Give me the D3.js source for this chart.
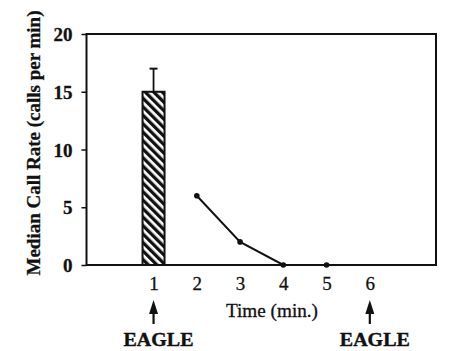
<!DOCTYPE html>
<html><head><meta charset="utf-8">
<script src="https://cdn.jsdelivr.net/npm/d3@7"></script>
<style>
html,body{margin:0;padding:0;background:#fff;}
svg{display:block;}
</style>
</head><body>
<svg id="chart" width="449" height="351"></svg>
<script>
// Data
const barTime = [1];
const barValue = [15];
const barError = [17];
const lineTime = [2, 3, 4, 5];
const lineValue = [6, 2, 0, 0];
const xTicks = [1, 2, 3, 4, 5, 6];
const yTicks = [0, 5, 10, 15, 20];
const eagleTimes = [1, 6];
const eagleLabels = ["EAGLE", "EAGLE"];

const svg = d3.select("#chart");
const pLeft = 86.5, pRight = 436, pTop = 34, pBottom = 265;
const x = d3.scaleLinear().domain([-0.55, 7.53]).range([pLeft, pRight]);
const y = d3.scaleLinear().domain([0, 20]).range([pBottom, pTop]);

// hatch pattern
const defs = svg.append("defs");
const pat = defs.append("pattern").attr("id", "hatch")
  .attr("patternUnits", "userSpaceOnUse").attr("width", 6).attr("height", 6)
  .attr("patternTransform", "rotate(-45)");
pat.append("rect").attr("width", 6).attr("height", 6).attr("fill", "#fff");
pat.append("rect").attr("x", 0).attr("width", 3.3).attr("height", 6).attr("fill", "#111");

const serif = "'Liberation Serif','Times New Roman',serif";

// frame
svg.append("rect").attr("x", pLeft).attr("y", pTop)
  .attr("width", pRight - pLeft).attr("height", pBottom - pTop)
  .attr("fill", "none").attr("stroke", "#111").attr("stroke-width", 2);

// y axis
const yAxis = svg.append("g").attr("transform", `translate(${pLeft},0)`)
  .call(d3.axisLeft(y).tickValues(yTicks).tickSize(5).tickPadding(9).tickFormat(d3.format("d")));
yAxis.select(".domain").remove();
yAxis.selectAll("line").attr("stroke", "#111").attr("stroke-width", 1.5);
yAxis.selectAll("text").attr("font-family", serif).attr("font-weight", "bold")
  .attr("font-size", 19).attr("fill", "#111").attr("stroke", "#111").attr("stroke-width", 0.3)
  .attr("dy", "0.35em");

// x axis labels
const xAxis = svg.append("g").attr("transform", `translate(0,${pBottom})`)
  .call(d3.axisBottom(x).tickValues(xTicks).tickSize(0).tickPadding(12).tickFormat(d3.format("d")));
xAxis.select(".domain").remove();
xAxis.selectAll("text").attr("font-family", serif).attr("font-size", 19).attr("fill", "#111")
  .attr("stroke", "#111").attr("stroke-width", 0.3);

// bar
const bw = 22;
svg.selectAll(".bar").data(barTime).enter().append("rect")
  .attr("x", (d) => x(d) - bw / 2).attr("y", (d, i) => y(barValue[i]))
  .attr("width", bw).attr("height", (d, i) => y(0) - y(barValue[i]))
  .attr("fill", "url(#hatch)").attr("stroke", "#111").attr("stroke-width", 2);

// error bar
barTime.forEach((t, i) => {
  svg.append("line").attr("x1", x(t)).attr("x2", x(t))
    .attr("y1", y(barValue[i])).attr("y2", y(barError[i]))
    .attr("stroke", "#111").attr("stroke-width", 1.8);
  svg.append("line").attr("x1", x(t) - 4).attr("x2", x(t) + 4)
    .attr("y1", y(barError[i])).attr("y2", y(barError[i]))
    .attr("stroke", "#111").attr("stroke-width", 2);
});

// line
const pts = lineTime.map((t, i) => [t, lineValue[i]]);
svg.append("path").datum(pts)
  .attr("d", d3.line().x((d) => x(d[0])).y((d) => y(d[1])))
  .attr("fill", "none").attr("stroke", "#111").attr("stroke-width", 2);
svg.selectAll(".pt").data(pts).enter().append("circle")
  .attr("cx", (d) => x(d[0])).attr("cy", (d) => y(d[1])).attr("r", 2.8).attr("fill", "#111");

// x axis title
svg.append("text").attr("x", 272).attr("y", 317).attr("text-anchor", "middle")
  .attr("font-family", serif).attr("font-size", 18).attr("fill", "#111")
  .attr("stroke", "#111").attr("stroke-width", 0.3)
  .attr("textLength", 92).attr("lengthAdjust", "spacingAndGlyphs")
  .text("Time (min.)");

// y axis title
svg.append("text").attr("transform", "translate(40,143) rotate(-90)")
  .attr("text-anchor", "middle").attr("font-family", serif).attr("font-weight", "bold")
  .attr("font-size", 18).attr("fill", "#111").attr("stroke", "#111").attr("stroke-width", 0.3)
  .attr("textLength", 265).attr("lengthAdjust", "spacingAndGlyphs")
  .text("Median Call Rate (calls per min)");

// eagle arrows and labels
eagleTimes.forEach((t, i) => {
  const cx = x(t);
  svg.append("line").attr("x1", cx).attr("x2", cx).attr("y1", 310).attr("y2", 324)
    .attr("stroke", "#111").attr("stroke-width", 2.2);
  svg.append("path").attr("d", `M${cx},300 L${cx - 4.5},314 L${cx + 4.5},314 Z`).attr("fill", "#111");
  svg.append("text").attr("x", cx + 5).attr("y", 346).attr("text-anchor", "middle")
    .attr("font-family", serif).attr("font-weight", "bold").attr("font-size", 19)
    .attr("fill", "#111").attr("stroke", "#111").attr("stroke-width", 0.4)
    .attr("textLength", 70).attr("lengthAdjust", "spacingAndGlyphs")
    .text(eagleLabels[i]);
});
</script>
</body></html>
